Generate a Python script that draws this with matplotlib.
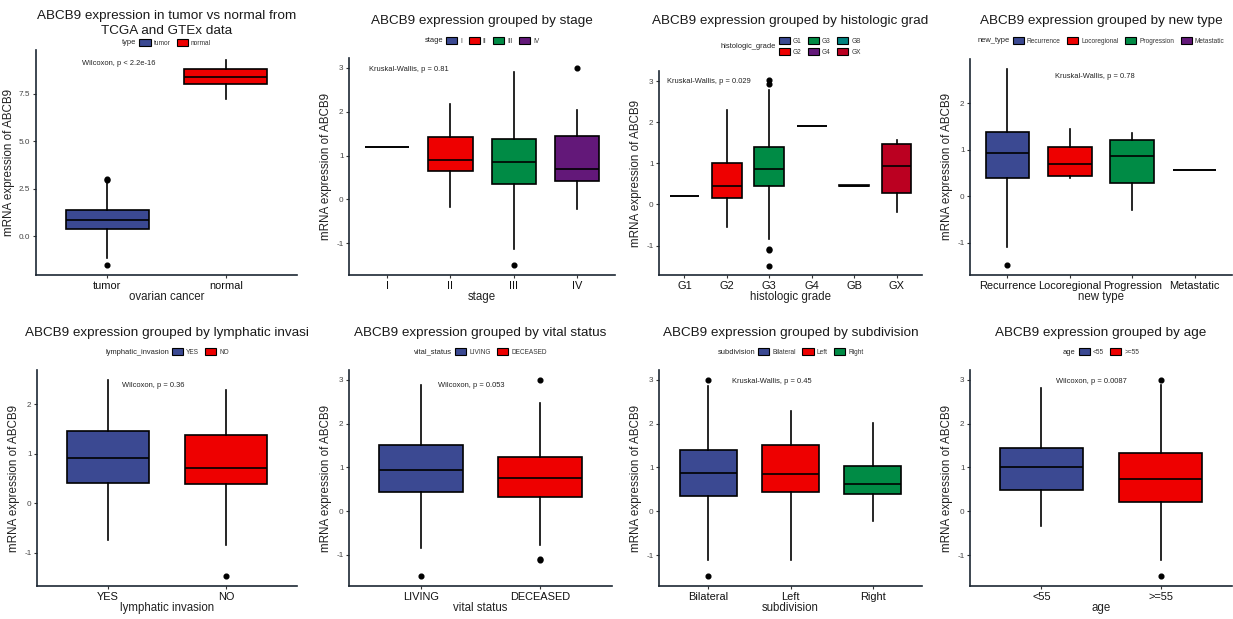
import matplotlib
matplotlib.use('Agg')
import matplotlib.pyplot as plt
from matplotlib.patches import Patch
import math

plt.rcParams['font.family'] = ['Liberation Sans', 'DejaVu Sans']

W, H = 1233, 619
BLUE = '#3B4992'; RED = '#EE0000'; GREEN = '#008B45'
PURPLE = '#631879'; TEAL = '#008280'; DRED = '#BB0021'

# ---------------- data ----------------
# Panel 1: tumor vs normal
type_groups = ['tumor', 'normal']
type_q1 = [0.36, 8.00]
type_med = [0.83, 8.38]
type_q3 = [1.40, 8.77]
type_lo = [-1.15, 7.20]
type_hi = [2.90, 9.25]
type_fliers = [[2.95, 3.00, -1.50], []]

# Panel 2: stage
stage_groups = ['I', 'II', 'III', 'IV']
stage_q1 = [1.20, 0.65, 0.34, 0.42]
stage_med = [1.20, 0.89, 0.85, 0.70]
stage_q3 = [1.20, 1.42, 1.37, 1.45]
stage_lo = [1.20, -0.18, -1.13, -0.21]
stage_hi = [1.20, 2.17, 2.91, 2.03]
stage_fliers = [[], [], [-1.50], [3.00]]

# Panel 3: histologic grade
grade_groups = ['G1', 'G2', 'G3', 'G4', 'GB', 'GX']
grade_q1 = [0.20, 0.15, 0.45, 1.92, 0.44, 0.28]
grade_med = [0.20, 0.45, 0.87, 1.92, 0.46, 0.94]
grade_q3 = [0.20, 1.02, 1.40, 1.92, 0.47, 1.46]
grade_lo = [0.20, -0.54, -0.84, 1.92, 0.44, -0.19]
grade_hi = [0.20, 2.30, 2.78, 1.92, 0.47, 1.56]
grade_fliers = [[], [], [3.02, 2.93, -1.08, -1.11, -1.49], [], [], []]

# Panel 4: new type
newtype_groups = ['Recurrence', 'Locoregional', 'Progression', 'Metastatic']
newtype_q1 = [0.40, 0.44, 0.29, 0.56]
newtype_med = [0.94, 0.69, 0.86, 0.56]
newtype_q3 = [1.39, 1.05, 1.20, 0.56]
newtype_lo = [-1.09, 0.39, -0.29, 0.56]
newtype_hi = [2.74, 1.44, 1.36, 0.56]
newtype_fliers = [[-1.48], [], [], []]

# Panel 5: lymphatic invasion
lymph_groups = ['YES', 'NO']
lymph_q1 = [0.40, 0.38]
lymph_med = [0.91, 0.71]
lymph_q3 = [1.45, 1.38]
lymph_lo = [-0.74, -0.84]
lymph_hi = [2.49, 2.29]
lymph_fliers = [[], [-1.47]]

# Panel 6: vital status
vital_groups = ['LIVING', 'DECEASED']
vital_q1 = [0.43, 0.32]
vital_med = [0.93, 0.75]
vital_q3 = [1.51, 1.23]
vital_lo = [-0.84, -0.77]
vital_hi = [2.88, 2.48]
vital_fliers = [[-1.49], [3.00, -1.09, -1.12]]

# Panel 7: subdivision
subdiv_groups = ['Bilateral', 'Left', 'Right']
subdiv_q1 = [0.36, 0.45, 0.39]
subdiv_med = [0.87, 0.85, 0.62]
subdiv_q3 = [1.40, 1.51, 1.04]
subdiv_lo = [-1.11, -1.10, -0.22]
subdiv_hi = [2.86, 2.30, 2.01]
subdiv_fliers = [[3.00, -1.48], [], []]

# Panel 8: age
age_groups = ['<55', '>=55']
age_q1 = [0.49, 0.22]
age_med = [1.00, 0.73]
age_q3 = [1.44, 1.32]
age_lo = [-0.33, -1.11]
age_hi = [2.81, 2.88]
age_fliers = [[], [3.00, -1.48]]

# ---------------- drawing ----------------
fig = plt.figure(figsize=(W / 100, H / 100), dpi=100)
fig.patch.set_facecolor('white')


def px_axes(x, top, w, bottom):
    return fig.add_axes([x / W, 1 - bottom / H, w / W, (bottom - top) / H])


def make_stats(groups, q1, med, q3, lo, hi, fl):
    return [dict(label=g, q1=a, med=b, q3=c, whislo=d, whishi=e, fliers=f)
            for g, a, b, c, d, e, f in zip(groups, q1, med, q3, lo, hi, fl)]


def add_legend(ax, title, cats, colors, cy, nrows=1):
    pos = ax.get_position()
    cx = (pos.x0 + pos.x1) / 2 * W
    handles = [Patch(facecolor=c, edgecolor='black', linewidth=0.8) for c in colors]
    ncol = math.ceil(len(cats) / nrows)
    leg = fig.legend(handles, cats, loc='center left',
                     bbox_to_anchor=(0, 1 - cy / H), ncol=ncol, frameon=False,
                     fontsize=4.7, handlelength=1.7, handleheight=1.2,
                     handletextpad=0.45, columnspacing=1.0, labelspacing=0.45,
                     borderaxespad=0, borderpad=0)
    for t in leg.get_texts():
        t.set_color('#333333')
    tt = fig.text(0, 1 - cy / H, title, ha='left', va='center', fontsize=5.4,
                  color='#222222')
    fig.canvas.draw()
    r = fig.canvas.get_renderer()
    wt = tt.get_window_extent(r).width
    wl = leg.get_window_extent(r).width
    gap = 3
    x0 = cx - (wt + gap + wl) / 2
    tt.set_x(x0 / W)
    leg.set_bbox_to_anchor(((x0 + wt + gap) / W, 1 - cy / H),
                           transform=fig.transFigure)


def panel(rect, stats, colors, title, title_y, xlabel, yticks, ytlabels,
          annot, annot_pos, leg_title, leg_y, leg_rows=1):
    ax = px_axes(*rect)
    n = len(stats)
    bp = ax.bxp(stats, positions=list(range(1, n + 1)), widths=0.7,
                patch_artist=True, showcaps=False,
                boxprops=dict(edgecolor='black', linewidth=1.2),
                medianprops=dict(color='black', linewidth=1.2),
                whiskerprops=dict(color='black', linewidth=1.2),
                flierprops=dict(marker='o', markerfacecolor='black',
                                markeredgecolor='black', markersize=3.4))
    for patch, c in zip(bp['boxes'], colors):
        patch.set_facecolor(c)
    vals = []
    for s in stats:
        vals += [s['whislo'], s['whishi']] + list(s['fliers'])
    lo, hi = min(vals), max(vals)
    pad = (hi - lo) * 0.05
    ax.set_ylim(lo - pad, hi + pad)
    ax.set_xlim(0.4, n + 0.6)
    ax.set_xticks(range(1, n + 1))
    ax.set_xticklabels([s['label'] for s in stats])
    ax.set_yticks(yticks)
    ax.set_yticklabels(ytlabels)
    for sp in ['top', 'right']:
        ax.spines[sp].set_visible(False)
    for sp in ['left', 'bottom']:
        ax.spines[sp].set_linewidth(1.2)
        ax.spines[sp].set_color('#1c2733')
    ax.tick_params(axis='x', labelsize=7.9, length=2.5, width=0.8, pad=1.5,
                   labelcolor='#111111', color='#333333')
    ax.tick_params(axis='y', labelsize=5.9, length=2.5, width=0.8, pad=1.5,
                   labelcolor='#444444', color='#333333')
    ax.set_xlabel(xlabel, fontsize=8.3, labelpad=0.5, color='#222222')
    ax.set_ylabel('mRNA expression of ABCB9', fontsize=8.4, labelpad=3,
                  color='#222222')
    ax.text(annot_pos[0], annot_pos[1], annot, transform=ax.transAxes,
            ha='left', va='center', fontsize=5.4, color='#222222')
    pos = ax.get_position()
    fig.text((pos.x0 + pos.x1) / 2, 1 - title_y / H, title, ha='center',
             va='center', fontsize=9.7, color='#1a1a1a', linespacing=1.25)
    add_legend(ax, leg_title, [s['label'] for s in stats], colors, leg_y,
               leg_rows)
    return ax


int_ticks = [-1, 0, 1, 2, 3]
int_labels = ['-1', '0', '1', '2', '3']

panel((36, 50, 261, 275),
      make_stats(type_groups, type_q1, type_med, type_q3, type_lo, type_hi, type_fliers),
      [BLUE, RED],
      'ABCB9 expression in tumor vs normal from\nTCGA and GTEx data', 23.5,
      'ovarian cancer', [0, 2.5, 5, 7.5], ['0.0', '2.5', '5.0', '7.5'],
      'Wilcoxon, p < 2.2e-16', (0.176, 0.942), 'type', 43)

panel((349, 58, 266, 275),
      make_stats(stage_groups, stage_q1, stage_med, stage_q3, stage_lo, stage_hi, stage_fliers),
      [BLUE, RED, GREEN, PURPLE],
      'ABCB9 expression grouped by stage', 21, 'stage',
      int_ticks, int_labels, 'Kruskal-Wallis, p = 0.81', (0.075, 0.949),
      'stage', 41)

panel((659, 71, 263, 275),
      make_stats(grade_groups, grade_q1, grade_med, grade_q3, grade_lo, grade_hi, grade_fliers),
      [BLUE, RED, GREEN, PURPLE, TEAL, DRED],
      'ABCB9 expression grouped by histologic grad', 21, 'histologic grade',
      int_ticks, int_labels, 'Kruskal-Wallis, p = 0.029', (0.029, 0.947),
      'histologic_grade', 46.5, leg_rows=2)

panel((970, 59, 262, 275),
      make_stats(newtype_groups, newtype_q1, newtype_med, newtype_q3, newtype_lo, newtype_hi, newtype_fliers),
      [BLUE, RED, GREEN, PURPLE],
      'ABCB9 expression grouped by new type', 21, 'new type',
      [-1, 0, 1, 2], ['-1', '0', '1', '2'], 'Kruskal-Wallis, p = 0.78',
      (0.324, 0.92), 'new_type', 41)

panel((37, 370, 260, 586),
      make_stats(lymph_groups, lymph_q1, lymph_med, lymph_q3, lymph_lo, lymph_hi, lymph_fliers),
      [BLUE, RED],
      'ABCB9 expression grouped by lymphatic invasi', 333, 'lymphatic invasion',
      [-1, 0, 1, 2], ['-1', '0', '1', '2'], 'Wilcoxon, p = 0.36',
      (0.327, 0.93), 'lymphatic_invasion', 352)

panel((349, 370, 263, 586),
      make_stats(vital_groups, vital_q1, vital_med, vital_q3, vital_lo, vital_hi, vital_fliers),
      [BLUE, RED],
      'ABCB9 expression grouped by vital status', 333, 'vital status',
      int_ticks, int_labels, 'Wilcoxon, p = 0.053', (0.337, 0.93),
      'vital_status', 352)

panel((659, 370, 263, 586),
      make_stats(subdiv_groups, subdiv_q1, subdiv_med, subdiv_q3, subdiv_lo, subdiv_hi, subdiv_fliers),
      [BLUE, RED, GREEN],
      'ABCB9 expression grouped by subdivision', 333, 'subdivision',
      int_ticks, int_labels, 'Kruskal-Wallis, p = 0.45', (0.278, 0.946),
      'subdivision', 352)

panel((970, 370, 262, 586),
      make_stats(age_groups, age_q1, age_med, age_q3, age_lo, age_hi, age_fliers),
      [BLUE, RED],
      'ABCB9 expression grouped by age', 333, 'age',
      int_ticks, int_labels, 'Wilcoxon, p = 0.0087', (0.327, 0.946),
      'age', 352)

fig.savefig('out.png', dpi=100, facecolor='white')
